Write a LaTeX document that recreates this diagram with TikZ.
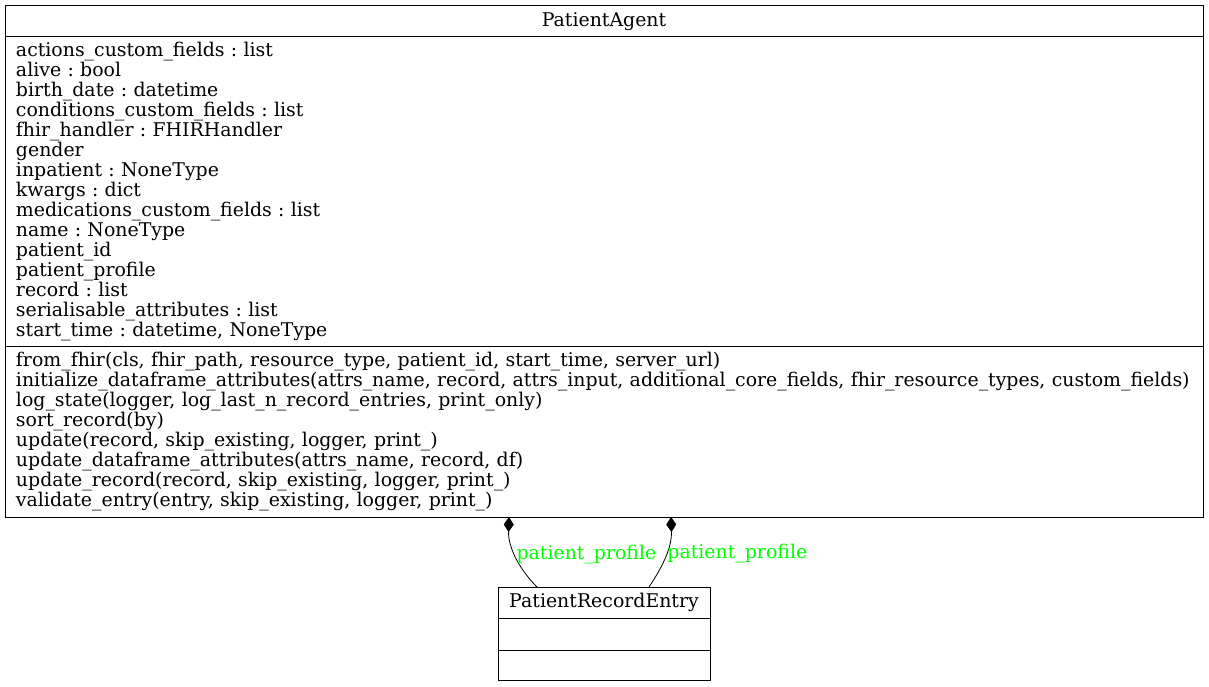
\documentclass[tikz,border=0pt]{standalone}
\usepackage{fontspec}
\setmainfont{DejaVu Serif}
\usetikzlibrary{arrows.meta, positioning}
\frenchspacing

\begin{document}
\begin{tikzpicture}[
    x=1pt, y=1pt,
    every node/.style = {font=\fontsize{18.9}{20}\selectfont},
    classTitle/.style = {draw=black, line width=1pt, rectangle, anchor=north, inner sep=0pt, outer sep=0pt, minimum height=31pt},
    classBody/.style = {draw=black, line width=1pt, rectangle, anchor=north, align=left, inner xsep=11pt, inner ysep=0pt, outer sep=0pt},
    composes/.style = {-{Diamond[length=15pt, width=10pt]}, line width=0.8pt},
    edgeLabel/.style = {text=green, anchor=west, inner sep=1pt},
    node distance=0pt
]
\useasboundingbox (0,0) rectangle (1209,-687);

\node(PatientAgent)[classTitle, minimum width=1198pt] at (604,-6) {PatientAgent};

\node(PatientAgentAttrs)[classBody, text width=1176pt, minimum height=309pt, below=of PatientAgent] {
    actions\_custom\_fields : list\\
    alive : bool\\
    birth\_date : datetime\\
    conditions\_custom\_fields : list\\
    fhir\_handler : FHIRHandler\\
    gender\\
    inpatient : NoneType\\
    kwargs : dict\\
    medications\_custom\_fields : list\\
    name : NoneType\\
    patient\_id\\
    patient\_profile\\
    record : list\\
    serialisable\_attributes : list\\
    start\_time : datetime, NoneType
};

\node(PatientAgentOps)[classBody, text width=1176pt, minimum height=171pt, below=of PatientAgentAttrs] {
    from\_fhir(cls, fhir\_path, resource\_type, patient\_id, start\_time, server\_url)\\
    \mbox{initialize\_dataframe\_attributes(attrs\_name, record, attrs\_input, additional\_core\_fields, fhir\_resource\_types, custom\_fields)}\\
    log\_state(logger, log\_last\_n\_record\_entries, print\_only)\\
    sort\_record(by)\\
    update(record, skip\_existing, logger, print\_)\\
    update\_dataframe\_attributes(attrs\_name, record, df)\\
    update\_record(record, skip\_existing, logger, print\_)\\
    validate\_entry(entry, skip\_existing, logger, print\_)
};

\node(PatientRecordEntry)[classTitle, minimum width=212pt] at (604,-587) {PatientRecordEntry};
\node(PatientRecordEntryAttrs)[classBody, minimum width=212pt, minimum height=32pt, below=of PatientRecordEntry] {};
\node(PatientRecordEntryOps)[classBody, minimum width=212pt, minimum height=30pt, below=of PatientRecordEntryAttrs] {};

\draw[composes] ([xshift=-67pt]PatientRecordEntry.north)
    .. controls +(-16,16) and +(-1,-32) .. ([xshift=-95pt]PatientAgentOps.south)
    node[edgeLabel, pos=0.55] {patient\_profile};

\draw[composes] ([xshift=45pt]PatientRecordEntry.north)
    .. controls +(12,18) and +(1,-32) .. ([xshift=67pt]PatientAgentOps.south)
    node[edgeLabel, pos=0.55] {patient\_profile};

\end{tikzpicture}
\end{document}
